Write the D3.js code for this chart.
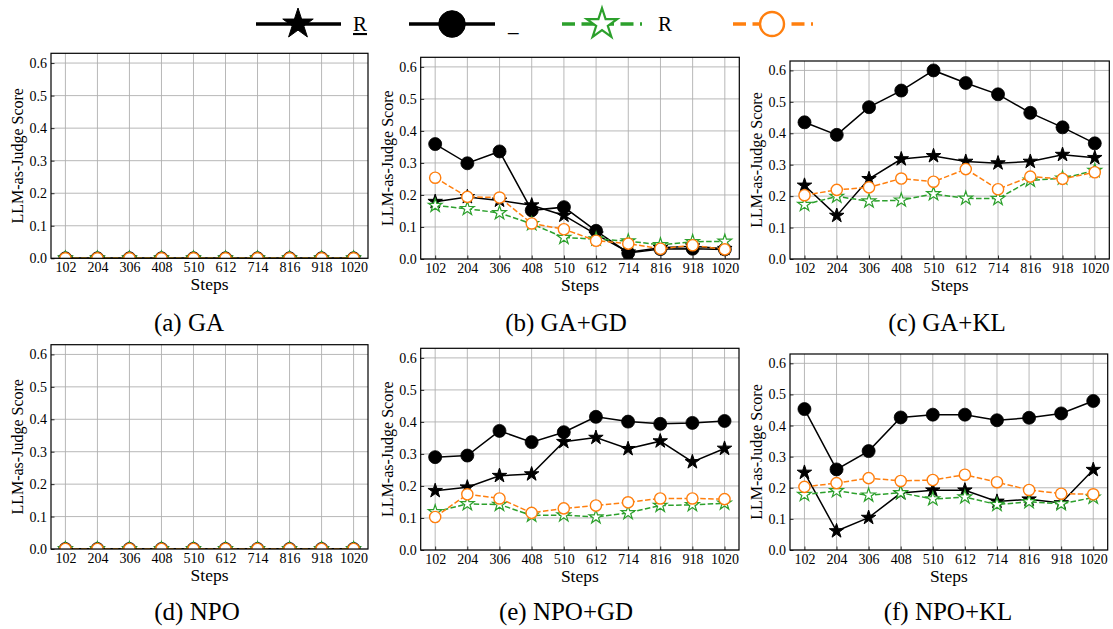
<!DOCTYPE html>
<html>
<head>
<meta charset="utf-8">
<script src="https://cdn.jsdelivr.net/npm/d3@7"></script>
<style>
  html, body { margin: 0; padding: 0; background: #fff; }
  svg { display: block; }
  svg text { font-family: 'Liberation Serif', Tinos, 'Times New Roman', Times, 'DejaVu Serif', serif; fill: #000; }
</style>
</head>
<body>
<svg id="chart" width="1113" height="629"></svg>
<script>
// ---------------- DATA ----------------
const steps = [102, 204, 306, 408, 510, 612, 714, 816, 918, 1020];
const yTicks = [0.0, 0.1, 0.2, 0.3, 0.4, 0.5, 0.6];
const seriesLabels = ["R", "_", "R", ""];
const panelTitles = ["(a) GA", "(b) GA+GD", "(c) GA+KL", "(d) NPO", "(e) NPO+GD", "(f) NPO+KL"];
const xLabel = "Steps";
const yLabel = "LLM-as-Judge Score";

// (a) GA
const gaStarBlack   = [0, 0, 0, 0, 0, 0, 0, 0, 0, 0];
const gaCircleBlack = [0, 0, 0, 0, 0, 0, 0, 0, 0, 0];
const gaStarGreen   = [0, 0, 0, 0, 0, 0, 0, 0, 0, 0];
const gaCircleOrange= [0, 0, 0, 0, 0, 0, 0, 0, 0, 0];
// (b) GA+GD
const gagdStarBlack   = [0.179, 0.194, 0.183, 0.168, 0.136, 0.077, 0.021, 0.035, 0.040, 0.032];
const gagdCircleBlack = [0.359, 0.299, 0.336, 0.152, 0.162, 0.088, 0.019, 0.031, 0.032, 0.030];
const gagdStarGreen   = [0.167, 0.157, 0.144, 0.110, 0.067, 0.062, 0.056, 0.044, 0.054, 0.055];
const gagdCircleOrange= [0.254, 0.194, 0.192, 0.111, 0.093, 0.057, 0.048, 0.032, 0.043, 0.030];
// (c) GA+KL
const gaklStarBlack   = [0.234, 0.138, 0.255, 0.318, 0.328, 0.310, 0.305, 0.310, 0.332, 0.322];
const gaklCircleBlack = [0.435, 0.395, 0.483, 0.536, 0.600, 0.560, 0.524, 0.465, 0.419, 0.368];
const gaklStarGreen   = [0.173, 0.199, 0.184, 0.187, 0.207, 0.193, 0.192, 0.250, 0.257, 0.281];
const gaklCircleOrange= [0.203, 0.220, 0.228, 0.256, 0.246, 0.286, 0.222, 0.262, 0.255, 0.276];
// (d) NPO
const npoStarBlack   = [0, 0, 0, 0, 0, 0, 0, 0, 0, 0];
const npoCircleBlack = [0, 0, 0, 0, 0, 0, 0, 0, 0, 0];
const npoStarGreen   = [0, 0, 0, 0, 0, 0, 0, 0, 0, 0];
const npoCircleOrange= [0, 0, 0, 0, 0, 0, 0, 0, 0, 0];
// (e) NPO+GD
const npogdStarBlack   = [0.185, 0.196, 0.232, 0.237, 0.338, 0.351, 0.316, 0.340, 0.275, 0.317];
const npogdCircleBlack = [0.290, 0.295, 0.372, 0.337, 0.368, 0.416, 0.401, 0.394, 0.397, 0.403];
const npogdStarGreen   = [0.119, 0.144, 0.142, 0.108, 0.109, 0.103, 0.116, 0.139, 0.141, 0.146];
const npogdCircleOrange= [0.103, 0.174, 0.161, 0.116, 0.130, 0.139, 0.149, 0.161, 0.161, 0.159];
// (f) NPO+KL
const npoklStarBlack   = [0.249, 0.061, 0.104, 0.183, 0.192, 0.192, 0.156, 0.163, 0.151, 0.258];
const npoklCircleBlack = [0.453, 0.259, 0.318, 0.426, 0.435, 0.435, 0.417, 0.425, 0.439, 0.479];
const npoklStarGreen   = [0.178, 0.190, 0.176, 0.184, 0.164, 0.170, 0.146, 0.155, 0.148, 0.169];
const npoklCircleOrange= [0.203, 0.215, 0.231, 0.222, 0.225, 0.242, 0.218, 0.193, 0.181, 0.179];

// ---------------- STYLE / LAYOUT ----------------
const FONT = "'Liberation Serif', Tinos, 'Times New Roman', Times, 'DejaVu Serif', serif";
const GREEN = "#2ca02c", ORANGE = "#ff7f0e";
const seriesStyles = [
  {marker: "star",   fill: "#000", stroke: "#000", lineColor: "#000", dash: null},
  {marker: "circle", fill: "#000", stroke: "#000", lineColor: "#000", dash: null},
  {marker: "star",   fill: "#fff", stroke: GREEN,  lineColor: GREEN,  dash: "5.5,2.4"},
  {marker: "circle", fill: "#fff", stroke: ORANGE, lineColor: ORANGE, dash: "5.5,2.4"}
];
const panelData = [
  [gaStarBlack, gaCircleBlack, gaStarGreen, gaCircleOrange],
  [gagdStarBlack, gagdCircleBlack, gagdStarGreen, gagdCircleOrange],
  [gaklStarBlack, gaklCircleBlack, gaklStarGreen, gaklCircleOrange],
  [npoStarBlack, npoCircleBlack, npoStarGreen, npoCircleOrange],
  [npogdStarBlack, npogdCircleBlack, npogdStarGreen, npogdCircleOrange],
  [npoklStarBlack, npoklCircleBlack, npoklStarGreen, npoklCircleOrange]
];
const boxes = [
  {x0: 51,    x1: 368,    y0: 53.3,  y1: 258.3, cx: 189, cy: 331},
  {x0: 420.7, x1: 739.3,  y0: 57.3,  y1: 259,   cx: 566, cy: 331},
  {x0: 790,   x1: 1109.3, y0: 61,    y1: 259,   cx: 947, cy: 331},
  {x0: 51,    x1: 368,    y0: 344.7, y1: 549,   cx: 197, cy: 620},
  {x0: 420.7, x1: 739,    y0: 348.3, y1: 550,   cx: 566, cy: 620},
  {x0: 790,   x1: 1107.7, y0: 354,   y1: 550,   cx: 948, cy: 620}
];

function starPath(R) {
  const r = R * 0.381966;
  const pts = [];
  for (let i = 0; i < 10; i++) {
    const a = -Math.PI / 2 + i * Math.PI / 5;
    const rr = i % 2 === 0 ? R : r;
    pts.push([rr * Math.cos(a), rr * Math.sin(a)]);
  }
  return "M" + pts.map(p => p[0].toFixed(2) + "," + p[1].toFixed(2)).join("L") + "Z";
}

const svg = d3.select("#chart");
const xPad = (steps[steps.length - 1] - steps[0]) * 0.05;

panelData.forEach((series, pi) => {
  const b = boxes[pi];
  const x = d3.scaleLinear().domain([steps[0] - xPad, steps[steps.length - 1] + xPad]).range([b.x0, b.x1]);
  const y = d3.scaleLinear().domain([0, 0.63]).range([b.y1, b.y0]);
  const g = svg.append("g");

  const clipId = "clip" + pi;
  svg.append("clipPath").attr("id", clipId).append("rect")
    .attr("x", b.x0).attr("y", b.y0).attr("width", b.x1 - b.x0).attr("height", b.y1 - b.y0);

  // grid
  g.append("g").selectAll("line").data(steps).join("line")
    .attr("x1", d => x(d)).attr("x2", d => x(d)).attr("y1", b.y0).attr("y2", b.y1)
    .attr("stroke", "#b0b0b0").attr("stroke-width", 0.9);
  g.append("g").selectAll("line").data(yTicks).join("line")
    .attr("x1", b.x0).attr("x2", b.x1).attr("y1", d => y(d)).attr("y2", d => y(d))
    .attr("stroke", "#b0b0b0").attr("stroke-width", 0.9);

  // axes (ticks inward, labels)
  const xAxis = d3.axisBottom(x).tickValues(steps).tickSize(-3.5).tickPadding(5).tickFormat(d3.format("d"));
  const gx = g.append("g").attr("transform", `translate(0,${b.y1})`).call(xAxis);
  const yAxis = d3.axisLeft(y).tickValues(yTicks).tickSize(-3.5).tickPadding(4).tickFormat(d3.format(".1f"));
  const gy = g.append("g").attr("transform", `translate(${b.x0},0)`).call(yAxis);
  [gx, gy].forEach(a => {
    a.attr("font-family", FONT).attr("font-size", 14);
    a.select(".domain").remove();
    a.selectAll("text").attr("fill", "#222");
    a.selectAll("line").attr("stroke", "#000").attr("stroke-width", 0.8);
  });
  gx.selectAll("text").attr("dy", "0.71em").attr("y", 4);

  // axis titles
  g.append("text").attr("x", (b.x0 + b.x1) / 2).attr("y", b.y1 + 32)
    .attr("text-anchor", "middle").attr("font-family", FONT).attr("font-size", 17.5).attr("fill", "#222").text(xLabel);
  g.append("text").attr("transform", `translate(${b.x0 - 28},${(b.y0 + b.y1) / 2}) rotate(-90)`)
    .attr("text-anchor", "middle").attr("font-family", FONT).attr("font-size", 16).attr("fill", "#222").text(yLabel);

  // series
  const plot = g.append("g").attr("clip-path", `url(#${clipId})`);
  series.forEach((vals, si) => {
    const st = seriesStyles[si];
    const pts = steps.map((s, i) => [s, vals[i]]);
    plot.append("path")
      .attr("d", d3.line().x(d => x(d[0])).y(d => y(d[1]))(pts))
      .attr("fill", "none").attr("stroke", st.lineColor).attr("stroke-width", 1.5)
      .attr("stroke-dasharray", st.dash);
    const mk = plot.append("g").selectAll("path").data(pts).join("path")
      .attr("transform", d => `translate(${x(d[0])},${y(d[1])})`)
      .attr("fill", st.fill).attr("stroke", st.stroke);
    if (st.marker === "star") {
      mk.attr("d", starPath(si === 0 ? 7.6 : 7.2)).attr("stroke-width", si === 0 ? 1 : 1.2).attr("stroke-linejoin", "miter");
    } else {
      mk.attr("d", d3.arc()({innerRadius: 0, outerRadius: si === 1 ? 6.5 : 5.6, startAngle: 0, endAngle: 2 * Math.PI}))
        .attr("stroke-width", si === 1 ? 0.8 : 1.4);
    }
  });

  // frame
  g.append("rect").attr("x", b.x0).attr("y", b.y0).attr("width", b.x1 - b.x0).attr("height", b.y1 - b.y0)
    .attr("fill", "none").attr("stroke", "#000").attr("stroke-width", 1.2);

  // caption
  svg.append("text").attr("x", b.cx).attr("y", b.cy).attr("text-anchor", "middle")
    .attr("font-family", FONT).attr("font-size", 25).text(panelTitles[pi]);
});

// ---------------- LEGEND ----------------
const legendItems = [
  {x0: 256, x1: 341, mx: 298, lx: 353},
  {x0: 409, x1: 495, mx: 452, lx: 508},
  {x0: 562, x1: 642, mx: 602, lx: 658},
  {x0: 733, x1: 813, mx: 772, lx: 830}
];
const ly = 24;
const leg = svg.append("g");
seriesStyles.forEach((st, i) => {
  const it = legendItems[i];
  leg.append("line").attr("x1", it.x0).attr("x2", it.x1).attr("y1", ly).attr("y2", ly)
    .attr("stroke", st.lineColor).attr("stroke-width", 3.6)
    .attr("stroke-dasharray", st.dash ? "13,6.5" : null);
  const m = leg.append("path").attr("transform", `translate(${it.mx},${ly})`)
    .attr("fill", st.fill).attr("stroke", st.stroke);
  if (st.marker === "star") {
    m.attr("d", starPath(16)).attr("stroke-width", i === 0 ? 1 : 2.2);
  } else {
    m.attr("d", d3.arc()({innerRadius: 0, outerRadius: i === 1 ? 13.3 : 12, startAngle: 0, endAngle: 2 * Math.PI}))
      .attr("stroke-width", i === 1 ? 1 : 2.4);
  }
  const t = leg.append("text").attr("x", it.lx).attr("y", ly + 7)
    .attr("font-family", FONT).attr("font-size", 21).text(seriesLabels[i]);
  if (i === 0) t.attr("text-decoration", "underline");
});
</script>
</body>
</html>
